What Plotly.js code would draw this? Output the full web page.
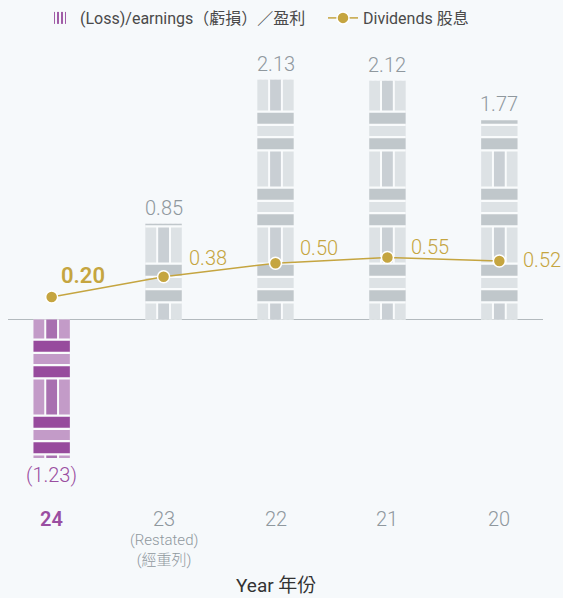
<!DOCTYPE html>
<html>
<head>
<meta charset="utf-8">
<script src="https://cdn.plot.ly/plotly-3.0.1.min.js"></script>
<style>html,body{margin:0;padding:0;background:#f6f9fb;}#chart{width:563px;height:598px;}</style>
</head>
<body>
<div id="chart"></div>
<script>
// ---------------- data ----------------
const years = ['24', '23', '22', '21', '20'];
const earnings = [-1.23, 0.85, 2.13, 2.12, 1.77];
const earningsLabels = ['(1.23)', '0.85', '2.13', '2.12', '1.77'];
const dividends = [0.20, 0.38, 0.50, 0.55, 0.52];
const dividendLabels = ['0.20', '0.38', '0.50', '0.55', '0.52'];
const yearNotes = ['', '(Restated)<br>(經重列)', '', '', ''];
const barName = '(Loss)/earnings（虧損）／盈利';
const lineName = 'Dividends 股息';

// ---------------- layout geometry / styles ----------------
const W = 563, H = 598;
const M = {l: 8, r: 20, t: 50, b: 100};
const plotW = W - M.l - M.r, plotH = H - M.t - M.b;
const xRange = [-0.39, 4.39];
const catPx = plotW / (xRange[1] - xRange[0]);
const PX = 112.6;              // px per y unit
const zeroPx = 319.5;          // y pixel of zero line
const yRange = [-(H - M.b - zeroPx) / PX, (zeroPx - M.t) / PX];
const paperY = py => (H - M.b - py) / plotH;
const paperX = px => (px - M.l) / plotW;

const FONT = 'Roboto, "Noto Sans CJK TC", "Noto Sans", sans-serif';
const GOLD = '#c5a540';
const GREY_TXT = '#8f989e';
const PURPLE_TXT = '#9a4ea1';
const gapColor = '#f9fbfc';
const pal = {
  neg: {light: '#c39bc8', mid: '#a870b0', dark: '#974b9d'},
  pos: {light: '#dde2e5', mid: '#c9cfd4', dark: '#c0c7cb'}
};
const barWpx = 36.4, colWpx = 10.8, colGap = 2;
// dividend label offsets (px) relative to the point
const divLabelShift = [[31, 21], [44, 19], [43, 15], [43, 11], [43, 1]];

// ---------------- brick pattern pieces (computed from data) ----------------
const P = 76, c0 = -1.5;
const pieces = {x: [], base: [], y: [], offset: [], width: [], color: []};
function addPiece(cat, a, b, lo, hi, offPx, wPx, color) {
  const s = Math.max(a, lo), e = Math.min(b, hi);
  if (e - s < 0.3) return;
  pieces.x.push(cat); pieces.base.push(s / PX); pieces.y.push((e - s) / PX);
  pieces.offset.push(offPx / catPx); pieces.width.push(wPx / catPx); pieces.color.push(color);
}
earnings.forEach((v, i) => {
  const lo = Math.min(0, v) * PX, hi = Math.max(0, v) * PX;
  const c = v < 0 ? pal.neg : pal.pos;
  const kMin = Math.floor((lo - 100) / P), kMax = Math.ceil((hi + 100) / P);
  for (let k = kMin; k <= kMax; k++) {
    const cc = c0 + P * k;
    const left = -barWpx / 2;
    addPiece(years[i], cc - 17.5, cc + 17.5, lo, hi, left, colWpx, c.light);
    addPiece(years[i], cc - 17.5, cc + 17.5, lo, hi, left + colWpx + colGap, colWpx, c.mid);
    addPiece(years[i], cc - 17.5, cc + 17.5, lo, hi, left + 2 * (colWpx + colGap), colWpx, c.light);
    addPiece(years[i], cc + 19.75, cc + 30.75, lo, hi, left, barWpx, c.dark);
    addPiece(years[i], cc + 33, cc + 43, lo, hi, left, barWpx, c.light);
    addPiece(years[i], cc + 45.25, cc + 56.25, lo, hi, left, barWpx, c.dark);
  }
});

const traces = [
  { // legend-carrying bar trace
    type: 'bar', name: barName, x: years, y: earnings, legend: 'legend',
    width: barWpx / catPx,
    marker: {
      color: earnings.map(v => v < 0 ? pal.neg.light : pal.pos.light),
      pattern: {shape: '|', fgcolor: earnings.map(v => v < 0 ? pal.neg.dark : pal.pos.dark), size: 5, solidity: 0.45},
      line: {width: 0}
    },
    hoverinfo: 'x+y'
  },
  { // gap-coloured backing
    type: 'bar', x: years, y: earnings, width: barWpx / catPx,
    marker: {color: gapColor, line: {width: 0}}, showlegend: false, hoverinfo: 'skip'
  },
  { // brick pieces
    type: 'bar', x: pieces.x, y: pieces.y, base: pieces.base, offset: pieces.offset, width: pieces.width,
    marker: {color: pieces.color, line: {width: 0}}, showlegend: false, hoverinfo: 'skip'
  },
  {
    type: 'scatter', mode: 'lines+markers', name: lineName, x: years, y: dividends, legend: 'legend2',
    line: {color: GOLD, width: 1.5},
    marker: {color: GOLD, size: 12, line: {color: '#ffffff', width: 1.5}},
    hoverinfo: 'x+y'
  }
];

const annotations = [];
earnings.forEach((v, i) => {
  annotations.push({
    x: i, y: v, xref: 'x', yref: 'y', text: earningsLabels[i], showarrow: false,
    yanchor: v < 0 ? 'top' : 'bottom', yshift: v < 0 ? -3 : 2,
    font: {family: FONT, size: 20, color: v < 0 ? PURPLE_TXT : GREY_TXT, weight: 300}
  });
  annotations.push({
    x: i, y: paperY(519), xref: 'x', yref: 'paper', text: years[i], showarrow: false,
    yanchor: 'middle',
    font: {family: FONT, size: 20, color: v < 0 ? PURPLE_TXT : GREY_TXT, weight: v < 0 ? 600 : 300}
  });
  if (yearNotes[i]) {
    annotations.push({
      x: i, y: paperY(549.5), xref: 'x', yref: 'paper', text: yearNotes[i], showarrow: false,
      yanchor: 'middle', font: {family: FONT, size: 15, color: GREY_TXT, weight: 300}
    });
  }
});
dividends.forEach((d, i) => {
  annotations.push({
    x: i, y: d, xref: 'x', yref: 'y', text: dividendLabels[i], showarrow: false,
    xanchor: 'center', yanchor: 'middle', xshift: divLabelShift[i][0], yshift: divLabelShift[i][1],
    font: {family: FONT, size: i === 0 ? 22 : 20, color: GOLD, weight: i === 0 ? 600 : 300}
  });
});
annotations.push({
  x: 0.5, y: paperY(585), xref: 'paper', yref: 'paper', text: 'Year 年份', showarrow: false,
  yanchor: 'middle', font: {family: FONT, size: 19, color: '#333333'}
});

const legendCommon = {
  orientation: 'h', xanchor: 'left', yref: 'container', y: 1 - 18 / H, yanchor: 'middle',
  font: {family: FONT, size: 16, color: '#4a4a4a'}, bgcolor: 'rgba(0,0,0,0)'
};

const layout = {
  width: W, height: H, margin: M,
  paper_bgcolor: '#f6f9fb', plot_bgcolor: 'rgba(0,0,0,0)',
  font: {family: FONT, color: '#444444'},
  barmode: 'overlay',
  showlegend: true,
  legend: Object.assign({x: paperX(40)}, legendCommon),
  legend2: Object.assign({x: paperX(323)}, legendCommon),
  xaxis: {
    type: 'category', range: xRange, showticklabels: false, showgrid: false, zeroline: false,
    showline: false, ticks: '', fixedrange: true
  },
  yaxis: {
    range: yRange, showticklabels: false, showgrid: false, zeroline: true,
    zerolinecolor: '#b3babe', zerolinewidth: 1.5, showline: false, ticks: '', layer: 'above traces', fixedrange: true
  },
  annotations: annotations
};

Plotly.newPlot('chart', traces, layout, {displayModeBar: false, staticPlot: true});
</script>
</body>
</html>
